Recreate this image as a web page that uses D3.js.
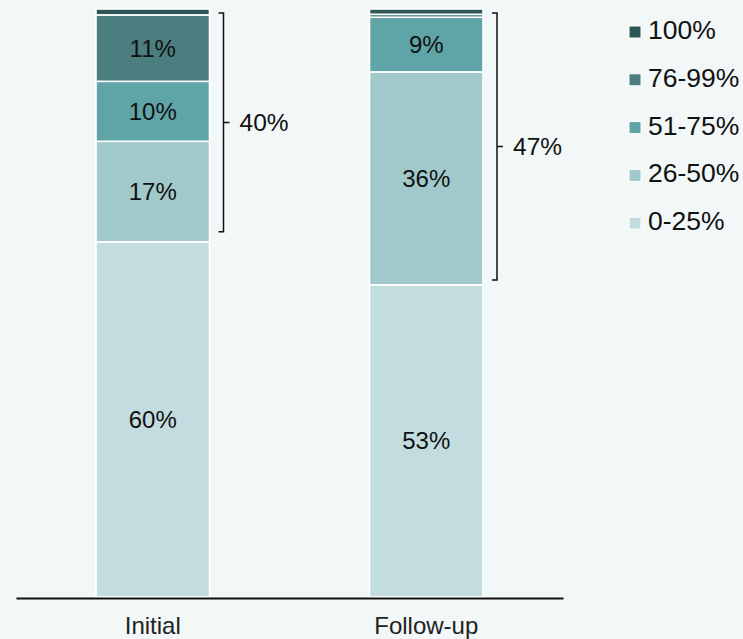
<!DOCTYPE html>
<html>
<head>
<meta charset="utf-8">
<script src="https://cdn.jsdelivr.net/npm/d3@7"></script>
<style>
  html, body { margin: 0; padding: 0; background: #f2f7f7; }
  svg { display: block; font-family: "Liberation Sans", Arial, sans-serif; }
</style>
</head>
<body>
<svg id="chart" width="743" height="639"></svg>
<script>
// ---- data ----
const categories = ["Initial", "Follow-up"];
const seriesNames = ["0-25%", "26-50%", "51-75%", "76-99%", "100%"];
const values0to25 = [60.4, 53.1];
const values26to50 = [17.1, 36.2];
const values51to75 = [10.2, 9.3];
const values76to99 = [11.3, 0.5];
const values100 = [1.0, 0.9];
const bracketLabels = ["40%", "47%"];
const bracketFrom = [62.1, 53.9];
const bracketTo = [99.3, 99.3];
const colors = ["#c2dcdf", "#a1c8ca", "#5fa4a7", "#4b7e7f", "#2f5657"];

const seriesValues = [values0to25, values26to50, values51to75, values76to99, values100];
const table = categories.map((c, i) => {
  const row = { category: c };
  seriesNames.forEach((s, j) => row[s] = seriesValues[j][i]);
  return row;
});

const svg = d3.select("#chart");
const x = d3.scaleBand().domain(categories).range([16, 563]).paddingInner(0.585).paddingOuter(0.2925);
const y = d3.scaleLinear().domain([0, 100]).range([597, 9]);
const color = d3.scaleOrdinal().domain(seriesNames).range(colors);

const stacked = d3.stack().keys(seriesNames)(table);

const layers = svg.append("g").selectAll("g").data(stacked).join("g")
  .attr("fill", d => color(d.key));

layers.selectAll("rect").data(d => d.map(p => ({ p, key: d.key }))).join("rect")
  .attr("x", d => x(d.p.data.category))
  .attr("width", x.bandwidth())
  .attr("y", d => y(d.p[1]))
  .attr("height", d => y(d.p[0]) - y(d.p[1]))
  .attr("stroke", "#ffffff")
  .attr("stroke-width", 1.6);

// segment labels
layers.selectAll("text").data(d => d.filter(p => p[1] - p[0] >= 5)).join("text")
  .attr("x", p => x(p.data.category) + x.bandwidth() / 2)
  .attr("y", p => (y(p[0]) + y(p[1])) / 2)
  .attr("dy", "0.35em")
  .attr("text-anchor", "middle")
  .attr("font-size", 24)
  .attr("fill", "#111")
  .text(p => Math.round(p[1] - p[0]) + "%");

// brackets
const bx = d => x(d) + x.bandwidth() + 14;
categories.forEach((c, i) => {
  const xv = bx(c);
  const y0 = y(bracketTo[i]), y1 = y(bracketFrom[i]);
  const ym = (y0 + y1) / 2;
  svg.append("path")
    .attr("d", `M${xv - 5},${y0}H${xv}V${y1}H${xv - 5}M${xv},${ym}H${xv + 6}`)
    .attr("fill", "none")
    .attr("stroke", "#111")
    .attr("stroke-width", 1.5);
  svg.append("text")
    .attr("x", xv + 16)
    .attr("y", ym)
    .attr("dy", "0.35em")
    .attr("font-size", 24.5)
    .attr("fill", "#111")
    .text(bracketLabels[i]);
});

// x axis
const axis = svg.append("g").attr("transform", "translate(0,598)")
  .call(d3.axisBottom(x).tickSize(0).tickPadding(20));
axis.select(".domain").attr("stroke", "#111").attr("stroke-width", 2.2);
axis.selectAll("text").attr("font-size", 24).attr("fill", "#222")
  .attr("font-family", "\"Liberation Sans\", Arial, sans-serif")
  .attr("dy", "0.68em");

// legend
const legendOrder = seriesNames.slice().reverse();
const lg = svg.append("g").selectAll("g").data(legendOrder).join("g")
  .attr("transform", (d, i) => `translate(629,${39 + i * 47.8})`);
lg.append("rect")
  .attr("x", 0).attr("y", -13).attr("width", 12).attr("height", 12)
  .attr("fill", d => color(d))
  .attr("stroke", "#ffffff").attr("stroke-width", 1);
lg.append("text")
  .attr("x", 19).attr("y", 0)
  .attr("font-size", 26.5).attr("fill", "#111")
  .text(d => d);
</script>
</body>
</html>
